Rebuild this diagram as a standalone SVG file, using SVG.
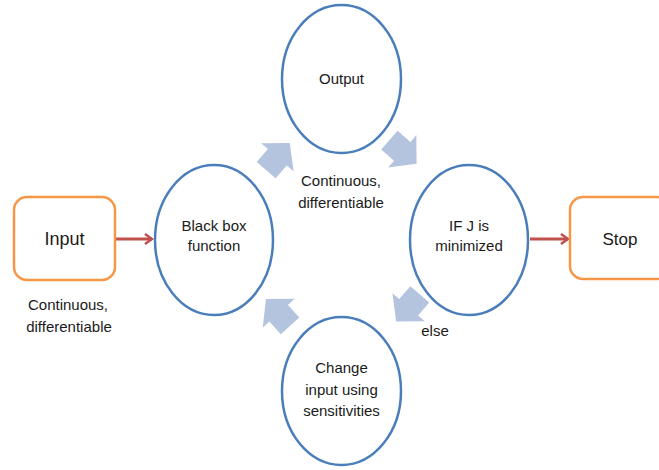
<svg xmlns="http://www.w3.org/2000/svg" width="659" height="470" viewBox="0 0 659 470">
<style>
text{font-family:"Liberation Sans",Arial,sans-serif;fill:#1a1a1a;text-anchor:middle}
.c{fill:#fff;stroke:#4A7EBB;stroke-width:2.5}
.b{fill:#fff;stroke:#F79646;stroke-width:2.5}
.t{font-size:15px}
.s{font-size:15px}
.ba{fill:#B4C4DF}
.ra{stroke:#C0504D;stroke-width:3;fill:none}
</style>
<defs>
<polygon id="blk" points="-18,-12.5 -1,-12.5 -1,-21.5 18,0 -1,21.5 -1,12.5 -18,12.5"/>
<marker id="ah" markerWidth="10" markerHeight="12" refX="8" refY="6" orient="auto" markerUnits="userSpaceOnUse">
<path d="M1,1 L8,6 L1,11" fill="none" stroke="#C0504D" stroke-width="2.5"/>
</marker>
</defs>
<g id="connectors">
<line class="ra" x1="116" y1="239" x2="152" y2="239" marker-end="url(#ah)"/>
<line class="ra" x1="530" y1="239" x2="568" y2="239" marker-end="url(#ah)"/>
<use href="#blk" class="ba" transform="translate(278,156.5) rotate(-49)"/>
<use href="#blk" class="ba" transform="translate(403,152) rotate(41)"/>
<use href="#blk" class="ba" transform="translate(408,308) rotate(131)"/>
<use href="#blk" class="ba" transform="translate(278,312.5) rotate(228)"/>
</g>
<g id="input">
<rect class="b" x="14" y="197" width="101" height="83" rx="13"/>
<text x="64.5" y="245" style="font-size:18px">Input</text>
</g>
<g id="stop">
<rect class="b" x="570" y="197" width="100" height="82" rx="13"/>
<text x="620" y="245" style="font-size:17px">Stop</text>
</g>
<g id="output">
<ellipse class="c" cx="341.5" cy="79" rx="59.5" ry="74"/>
<text class="t" x="341.5" y="84">Output</text>
</g>
<g id="blackbox">
<ellipse class="c" cx="214" cy="240" rx="59" ry="75"/>
<text class="t" x="214" y="231">Black box</text>
<text class="t" x="214" y="251">function</text>
</g>
<g id="ifj">
<ellipse class="c" cx="469" cy="240" rx="59" ry="75"/>
<text class="t" x="469" y="231">IF J is</text>
<text class="t" x="469" y="251">minimized</text>
</g>
<g id="change">
<ellipse class="c" cx="341.5" cy="391" rx="59.5" ry="74"/>
<text class="t" x="341.5" y="373">Change</text>
<text class="t" x="341.5" y="395">input using</text>
<text class="t" x="341.5" y="416">sensitivities</text>
</g>
<g id="labels">
<text class="s" x="341" y="186">Continuous,</text>
<text class="s" x="341" y="208">differentiable</text>
<text class="s" x="68" y="310">Continuous,</text>
<text class="s" x="69" y="332">differentiable</text>
<text class="s" x="435" y="336">else</text>
</g>
</svg>
